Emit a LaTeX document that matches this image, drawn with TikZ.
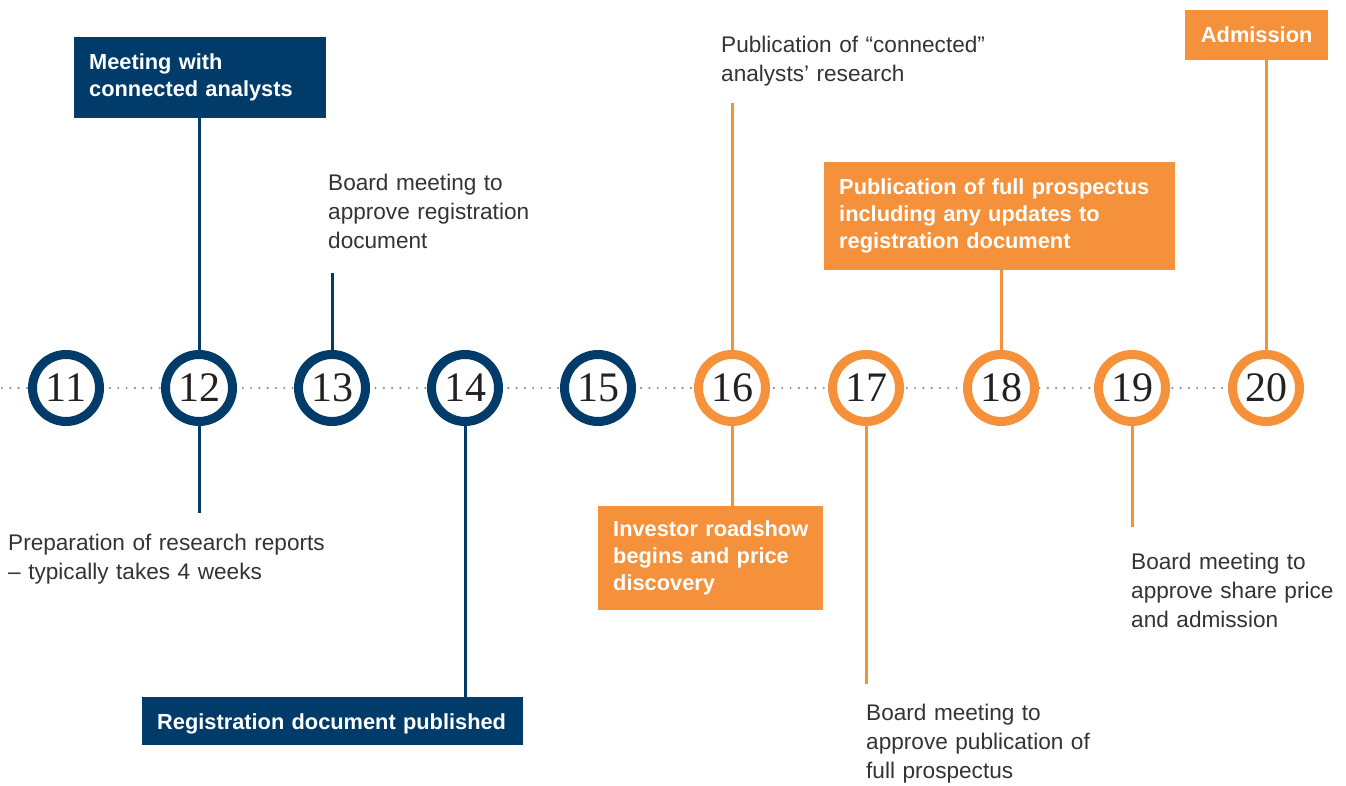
\documentclass[tikz,border=0pt]{standalone}
\usepackage{fontspec}
\setsansfont{Liberation Sans}
\newfontfamily\numfont{Liberation Serif}
\definecolor{navy}{HTML}{003B69}
\definecolor{orng}{HTML}{F5913B}
\definecolor{dotgray}{HTML}{8E8E8E}
\definecolor{txtgray}{HTML}{333333}
\definecolor{numblack}{HTML}{222222}
\tikzset{
  stepcirc/.style={circle, draw=#1, line width=9pt, fill=white, minimum size=67pt, inner sep=0pt,
     font=\numfont\fontsize{42}{42}\selectfont, text=numblack},
  conn/.style={draw=#1, line width=3pt},
  boxnode/.style={fill=#1, text=white, anchor=north west, inner xsep=15pt, inner ysep=0pt,
     font=\sffamily\bfseries\fontsize{21.8}{27}\selectfont, align=left,
     execute at begin node={\hyphenpenalty=10000\exhyphenpenalty=10000}},
  plain/.style={anchor=base west, inner sep=0pt, text=txtgray, align=left, text width=#1,
     font=\sffamily\fontsize{22.6}{29}\selectfont,
     execute at begin node={\hyphenpenalty=10000\exhyphenpenalty=10000}},
}
\begin{document}
\begin{tikzpicture}[x=1pt,y=-1pt]
\useasboundingbox (0,0) rectangle (1346,786);
% dotted timeline
\coordinate (tl0) at (2,388);
\coordinate (tl1) at (1305,388);
\draw[dotgray, line width=2.4pt, line cap=round, dash pattern=on 0pt off 8.3pt] (tl0) -- (tl1);
% circles
\node[stepcirc=navy] (c11) at (66,388) {11};
\node[stepcirc=navy] (c12) at (199,388) {12};
\node[stepcirc=navy] (c13) at (332,388) {13};
\node[stepcirc=navy] (c14) at (465,388) {14};
\node[stepcirc=navy] (c15) at (598,388) {15};
\node[stepcirc=orng] (c16) at (732,388) {16};
\node[stepcirc=orng] (c17) at (866,388) {17};
\node[stepcirc=orng] (c18) at (1001,388) {18};
\node[stepcirc=orng] (c19) at (1132,388) {19};
\node[stepcirc=orng] (c20) at (1266,388) {20};
% boxes
\node[boxnode=navy, minimum width=252pt, minimum height=81pt, text width=222pt] (meet) at (74,37)
  {Meeting with\\connected analysts};
\node[boxnode=navy, minimum width=381pt, minimum height=48pt, text width=351pt, text height=17pt, text depth=1pt] (reg) at (142,697)
  {Registration document published};
\node[boxnode=orng, minimum width=225pt, minimum height=104pt, text width=195pt] (road) at (598,506)
  {\mbox{Investor roadshow}\\begins and price\\discovery};
\node[boxnode=orng, minimum width=351pt, minimum height=108pt, text width=321pt] (pros) at (824,162)
  {Publication of full prospectus\\including any updates to\\registration document};
\node[boxnode=orng, minimum width=143pt, minimum height=50pt, text width=113pt, align=center] (adm) at (1185,10)
  {Admission};
% plain texts
\node[plain=330pt] (prep) at (8,550) {Preparation of research reports\\\textendash\ typically takes 4 weeks};
\node[plain=260pt] (b13) at (328,191) {Board meeting to\\approve registration\\document};
\node[plain=300pt] (p16) at (721,53) {Publication of \textquotedblleft connected\textquotedblright\\analysts\textquoteright\ research};
\node[plain=260pt] (b17) at (866,720) {Board meeting to\\approve publication of\\full prospectus};
\node[plain=210pt] (b19) at (1131,569) {Board meeting to\\approve share price\\and admission};
% free ends
\coordinate (e12) at (199,513);
\coordinate (e13) at (332,273);
\coordinate (e16) at (732,103);
\coordinate (e17) at (866,684);
\coordinate (e19) at (1132,527);
% connectors
\draw[conn=navy] (meet.south -| c12) -- (c12.north);
\draw[conn=navy] (c12.south) -- (e12);
\draw[conn=navy] (e13) -- (c13.north);
\draw[conn=navy] (c14.south) -- (c14.south |- reg.north);
\draw[conn=orng] (e16) -- (c16.north);
\draw[conn=orng] (c16.south) -- (c16.south |- road.north);
\draw[conn=orng] (c17.south) -- (e17);
\draw[conn=orng] (pros.south -| c18) -- (c18.north);
\draw[conn=orng] (c19.south) -- (e19);
\draw[conn=orng] (adm.south -| c20) -- (c20.north);
\end{tikzpicture}
\end{document}
